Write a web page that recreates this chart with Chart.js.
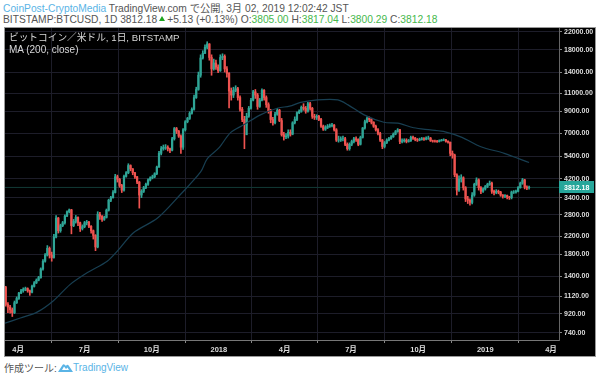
<!DOCTYPE html>
<html><head><meta charset="utf-8">
<script src="https://cdn.jsdelivr.net/npm/chart.js@4"></script>
<style>
html,body{margin:0;padding:0;background:#fff;width:600px;height:379px;overflow:hidden}
body{font-family:"Liberation Sans","Noto Sans CJK JP",sans-serif;color:#555;position:relative}
.t{position:absolute;white-space:nowrap}
.b{color:#5ab4e6}.g{color:#46b84c}
#wrap{position:absolute;left:4px;top:27px;width:592px;height:330px}
#c{display:block;filter:blur(.4px)}
</style></head><body>
<div class="t" style="left:3px;top:3px;font-size:10.25px;line-height:12px"><span class="b">CoinPost-CryptoMedia</span> TradingView.com で公開, 3月 02, 2019 12:02:42 JST</div>
<div class="t" style="left:3px;top:13.5px;font-size:10.25px;line-height:12px">BITSTAMP:BTCUSD, 1D 3812.18<svg width="6" height="5" viewBox="0 0 6 5" style="margin:0 2px 0 2px;vertical-align:2px"><path d="M3 0L6 5H0Z" fill="#1fa51f"/></svg>+5.13 (+0.13%) O:<span class="g">3805.00</span> H:<span class="g">3817.04</span> L:<span class="g">3800.29</span> C:<span class="g">3812.18</span></div>
<div id="wrap"><canvas id="c" width="592" height="330"></canvas></div>
<div class="t" style="left:9px;top:32px;font-size:9.7px;line-height:12px;color:#d8d8d8">ビットコイン／米ドル, 1日, BITSTAMP</div>
<div class="t" style="left:9px;top:43.5px;font-size:10px;line-height:12px;color:#d8d8d8">MA (200, close)</div>
<div class="t" style="left:4px;top:362px;font-size:10px;line-height:13px;color:#555">作成ツール:</div>
<svg class="t" style="left:58px;top:362px" width="15" height="11" viewBox="0 0 15 11"><path d="M0 10 L4.5 3 Q5.5 1.5 7 3 L8 4 Q9 2 10.5 3.2 L15 10 Z M4 8 L11 8 L9.5 5.5 L8 7 L6 4.5 Z" fill="#5ab4e6" fill-rule="evenodd"/></svg>
<div class="t b" style="left:73px;top:361px;font-size:10px;line-height:14px">TradingView</div>
<script>
const opens=[1240,1020,990,960,930,1040,1090,1160,1190,1210,
1220,1190,1170,1250,1300,1340,1380,1520,1660,1780,
1920,1780,1730,2180,2700,2340,2480,2560,2760,2900,
2960,2480,2600,2720,2560,2400,2450,2560,2580,2460,
2340,2220,1950,2820,2760,2660,2720,2950,3300,3400,
3600,4300,4180,3900,3700,4320,4500,4880,4700,4500,
4300,4050,3500,3650,3800,3950,4150,4250,4300,4450,
4800,5600,5900,6000,6000,5900,5800,6600,7400,7200,
6800,6000,7300,8000,8300,8800,9200,10500,11500,13500,
16400,17300,18500,19200,16500,14500,15500,14800,14200,16500,
16700,14500,13800,11300,10800,11400,11600,10500,9200,8200,
6900,8500,9300,10200,11200,10800,9500,10200,11400,10500,
9700,9000,8200,7900,8700,9100,8100,6900,6750,6800,
7100,6950,7900,8200,8850,9000,9400,9300,9000,9800,
9300,8500,8400,8500,8200,7600,7350,7500,7600,7650,
7700,7300,6500,6500,6600,6600,6200,5900,6200,6400,
6600,6550,6200,6700,7450,8000,8300,8200,7950,7600,
7300,7000,6500,6050,6300,6500,6600,6750,6950,7150,
7300,6400,6450,6500,6400,6450,6700,6650,6550,6500,
6550,6600,6560,6650,6650,6450,6430,6420,6400,6460,
6500,6520,6420,6350,5600,5500,4400,3700,4200,4250,
3800,3350,3300,3220,3500,3950,4150,3800,3650,3750,
3850,3950,4000,3650,3600,3650,3620,3500,3450,3480,
3420,3400,3620,3620,3650,3800,4000,4150,3830,3805];
const closes=[1020,990,960,930,1040,1090,1160,1190,1210,1220,
1190,1170,1250,1300,1340,1380,1520,1660,1780,1920,
1780,1730,2180,2700,2340,2480,2560,2760,2900,2960,
2480,2600,2720,2560,2400,2450,2560,2580,2460,2340,
2220,1950,2820,2760,2660,2720,2950,3300,3400,3600,
4300,4180,3900,3700,4320,4500,4880,4700,4500,4300,
4050,3500,3650,3800,3950,4150,4250,4300,4450,4800,
5600,5900,6000,6000,5900,5800,6600,7400,7200,6800,
6000,7300,8000,8300,8800,9200,10500,11500,13500,16400,
17300,18500,19200,16500,14500,15500,14800,14200,16500,16700,
14500,13800,11300,10800,11400,11600,10500,9200,8200,7800,
8500,9300,10200,11200,10800,9500,10200,11400,10500,9700,
9000,8200,7900,8700,9100,8100,6900,6750,6800,7100,
6950,7900,8200,8850,9000,9400,9300,9000,9800,9300,
8500,8400,8500,8200,7600,7350,7500,7600,7650,7700,
7300,6500,6500,6600,6600,6200,5900,6200,6400,6600,
6550,6200,6700,7450,8000,8300,8200,7950,7600,7300,
7000,6500,6050,6300,6500,6600,6750,6950,7150,7300,
6400,6450,6500,6400,6450,6700,6650,6550,6500,6550,
6600,6560,6650,6650,6450,6430,6420,6400,6460,6500,
6520,6420,6350,5600,5500,4400,3700,4200,4250,3800,
3350,3300,3220,3500,3950,4150,3800,3650,3750,3850,
3950,4000,3650,3600,3650,3620,3500,3450,3480,3420,
3400,3620,3620,3650,3800,4000,4150,3830,3790,3812.18];
const highs=[1250,1040,1010,980,1060,1110,1170,1210,1230,1240,
1230,1200,1270,1320,1360,1400,1540,1690,1810,1980,
1950,1840,2250,2780,2720,2520,2600,2800,2930,2990,
2980,2660,2780,2740,2580,2500,2600,2630,2600,2480,
2360,2240,2900,2880,2780,2760,2990,3340,3450,3680,
4420,4380,4220,3950,4380,4560,4980,4920,4720,4520,
4320,4080,3720,3860,4000,4200,4300,4380,4500,4850,
5720,6050,6150,6180,6100,5950,6700,7500,7500,7250,
6900,7400,8100,8400,8950,9350,10800,11800,14000,17000,
17800,19000,19700,19300,17000,16200,16000,15200,17000,17200,
17000,14900,13900,11700,11800,12000,11800,10700,9400,8500,
8800,9500,10400,11400,11500,11000,10400,11600,11500,10700,
9900,9200,8400,8900,9300,9200,8300,7100,7000,7300,
7300,8000,8450,8950,9150,9550,9800,9500,9950,9950,
9400,8700,8650,8600,8300,7700,7650,7750,7800,7850,
7750,7400,6800,6750,6800,6700,6300,6300,6500,6700,
6750,6600,6800,7500,8150,8450,8450,8300,8000,7700,
7400,7100,6550,6400,6600,6700,6850,7050,7250,7400,
7350,6600,6600,6600,6550,6800,6800,6700,6620,6650,
6700,6680,6750,6800,6700,6500,6500,6480,6520,6560,
6600,6560,6450,6360,5750,5550,4450,4350,4400,4300,
3850,3450,3350,3600,4000,4250,4200,3850,3800,3900,
4000,4100,4050,3700,3720,3700,3650,3520,3520,3500,
3450,3660,3680,3700,3850,4050,4220,4180,3880,3870];
const lows=[1000,930,925,890,920,1030,1080,1150,1170,1190,
1170,1130,1160,1240,1290,1330,1370,1500,1640,1760,
1720,1660,1720,2160,2280,2300,2450,2520,2740,2860,
2260,2450,2550,2480,2320,2360,2420,2500,2420,2280,
2130,1870,1930,2660,2600,2630,2700,2920,3250,3380,
3580,4050,3820,3600,3660,4280,4450,4600,4400,4220,
3980,3020,3400,3600,3760,3900,4100,4200,4250,4400,
4780,5500,5800,5850,5750,5650,5750,6500,7000,6700,
5600,5850,7200,7900,8200,8700,9100,10400,11400,13200,
16200,17200,18200,16000,13500,14300,14400,13900,14100,16100,
14000,13200,9350,10200,10500,11200,10200,9000,8000,5900,
7700,8400,9200,10100,10400,9200,9400,10100,10200,9400,
8800,7900,7700,7800,8600,8000,6800,6500,6600,6650,
6800,6900,7800,8100,8750,8900,9100,8800,8900,9100,
8300,8200,8200,8100,7500,7250,7250,7400,7500,7550,
7200,6400,6350,6400,6450,6100,5800,5800,6100,6300,
6400,6100,6150,6650,7350,7900,8000,7800,7500,7200,
6900,6400,5900,5950,6250,6450,6550,6700,6900,7100,
6250,6300,6350,6300,6350,6400,6550,6450,6400,6450,
6500,6480,6520,6550,6400,6350,6350,6330,6360,6420,
6450,6350,6280,5450,5300,4300,3500,3650,4050,3700,
3250,3180,3120,3170,3450,3900,3700,3550,3600,3700,
3800,3900,3560,3500,3550,3550,3450,3380,3400,3350,
3330,3350,3560,3570,3620,3780,3950,3750,3720,3740];
const maDays=[1,22,45,67,90,114,141,156,177,210,241,269,278,294,310,328,351,375,391,406,429,457,471,493,520,539,561,584,604,627,653,685,719];
const maValues=[825,875,935,1060,1275,1460,1660,1880,2290,2700,3510,4540,5260,5950,7070,7720,8640,9330,9530,9940,10230,10230,9670,8640,7950,7870,7470,7290,7130,6700,6030,5600,5050];
const lastPrice=3812.18;
const yTicks=[740,920,1120,1400,1800,2200,2800,3400,4200,5400,7000,9000,11000,14000,18000,22000];
const xTickDays=[19,110,202,294,384,475,567,659,749];
const xTickLabels=['4月','7月','10月','2018','4月','7月','10月','2019','4月'];
const xMin=1,xMax=760,dayStep=3;
const days=closes.map((_,i)=>(i+1)*dayStep-1);
const UP='#2fa596',DOWN='#ef5350',TEAL='#26a69a',GRID='#1d1d29';
const cols=closes.map((c,i)=>c>=opens[i]?UP:DOWN);
const priceTag={id:'priceTag',afterDraw(ch){
  const y=ch.scales.y.getPixelForValue(lastPrice),g=ch.ctx,a=ch.chartArea;
  g.save();g.fillStyle=TEAL;g.fillRect(a.right,Math.round(y)-6,35,12);
  g.fillStyle='#fff';g.font='bold 7px "Liberation Sans"';g.textBaseline='middle';g.textAlign='left';
  g.fillText(lastPrice.toFixed(2),a.right+5,y+.5);
  g.strokeStyle='#999';g.lineWidth=1;g.strokeRect(.5,.5,ch.width-1,ch.height-1);
  g.restore();
}};
new Chart(document.getElementById('c'),{
 type:'bar',
 data:{datasets:[
  {type:'line',data:[{x:xMin,y:lastPrice},{x:xMax,y:lastPrice}],borderColor:'#123a36',borderWidth:1,pointRadius:0,order:3},
  {type:'bar',data:days.map((d,i)=>({x:d,y:[lows[i],highs[i]]})),backgroundColor:cols,barThickness:1,grouped:false,order:2},
  {type:'bar',data:days.map((d,i)=>({x:d,y:[opens[i],closes[i]]})),backgroundColor:cols,barThickness:1.6,grouped:false,order:1},
  {type:'line',data:maDays.map((d,i)=>({x:d,y:maValues[i]})),borderColor:'#183f52',borderWidth:1.2,pointRadius:0,tension:.3,order:0}
 ]},
 options:{responsive:false,animation:false,events:[],
  layout:{padding:{left:1,top:1,right:0,bottom:0}},
  plugins:{legend:{display:false},tooltip:{enabled:false},title:{display:false},priceTag:{}},
  scales:{
   x:{type:'linear',min:xMin,max:xMax,offset:false,
    afterBuildTicks:s=>{s.ticks=xTickDays.map(v=>({value:v}))},
    afterFit:s=>{s.height=17;s.paddingLeft=0;s.paddingRight=0},
    grid:{color:GRID,tickColor:'#888',tickLength:3,drawTicks:true},
    border:{color:'#777',width:1},
    ticks:{color:'#ddd',font:{size:7.5,weight:'bold',family:'"Liberation Sans","Noto Sans CJK JP"'},maxRotation:0,autoSkip:false,padding:2,
     callback:v=>xTickLabels[xTickDays.indexOf(v)]}},
   y:{type:'logarithmic',position:'right',min:683,max:23000,
    afterBuildTicks:s=>{s.ticks=yTicks.map(v=>({value:v}))},
    afterFit:s=>{s.width=37;s.paddingTop=0;s.paddingBottom=0},
    grid:{color:GRID,tickColor:'#888',tickLength:3},
    border:{color:'#666',width:1},
    ticks:{color:'#ddd',font:{size:7,weight:'bold',family:'"Liberation Sans"'},autoSkip:false,padding:2,
     callback:v=>Number(v).toFixed(2)}}
  }},
 plugins:[{id:'bg',beforeDraw(ch){ch.ctx.fillStyle='#000';ch.ctx.fillRect(0,0,ch.width,ch.height)}},priceTag]
});
</script>
</body></html>
